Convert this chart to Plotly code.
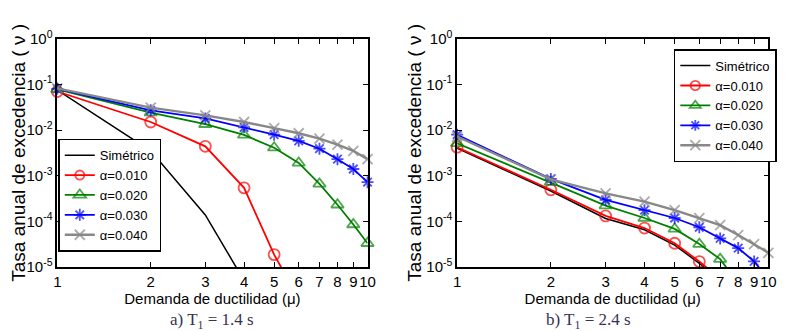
import plotly.graph_objects as go

mu = [1, 2, 3, 4, 5, 6, 7, 8, 9, 10]

# Panel a) T1 = 1.4 s
a_sim_x = [1, 2, 3, 4]
a_sim = [0.075, 0.0035, 0.000138, 0.000005]
a_010_x = [1, 2, 3, 4, 5, 6]
a_010 = [0.070, 0.015, 0.0044, 0.00054, 0.0000186, 0.000002]
a_020 = [0.078, 0.024, 0.0134, 0.0078, 0.0041, 0.0019, 0.00066, 0.00023, 0.000085, 0.000033]
a_030 = [0.080, 0.027, 0.018, 0.0115, 0.0079, 0.0058, 0.0039, 0.0023, 0.0014, 0.00072]
a_040 = [0.082, 0.031, 0.021, 0.015, 0.011, 0.0085, 0.0065, 0.0048, 0.0035, 0.0023]

# Panel b) T1 = 2.4 s
b_sim_x = [1, 2, 3, 4, 5, 6, 7]
b_sim = [0.0040, 0.00046, 0.000115, 0.000065, 0.00003, 0.000012, 0.000005]
b_010_x = [1, 2, 3, 4, 5, 6, 7]
b_010 = [0.0042, 0.00049, 0.000131, 0.000071, 0.000033, 0.0000131, 0.0000055]
b_020_x = [1, 2, 3, 4, 5, 6, 7, 8]
b_020 = [0.0051, 0.00072, 0.00022, 0.000118, 0.000068, 0.0000316, 0.0000148, 0.0000044]
b_030 = [0.0079, 0.00085, 0.000295, 0.000175, 0.000118, 0.000074, 0.000042, 0.0000258, 0.0000132, 0.0000054]
b_040 = [0.0072, 0.00083, 0.00041, 0.00027, 0.000175, 0.000117, 0.000082, 0.00005, 0.0000316, 0.0000204]

names = ["Simétrico", "α=0.010", "α=0.020", "α=0.030", "α=0.040"]
xtick_vals = [1, 2, 3, 4, 5, 6, 7, 8, 9, 10]
xtick_text = ["1", "2", "3", "4", "5", "6", "7", "8", "9", "10"]
ytick_vals = [1e-5, 1e-4, 1e-3, 1e-2, 1e-1, 1]
ytick_text = ["10<sup>-5</sup>", "10<sup>-4</sup>", "10<sup>-3</sup>", "10<sup>-2</sup>", "10<sup>-1</sup>", "10<sup>0</sup>"]

YMIN = 1e-5

styles = [
    dict(color="black", symbol=None, width=1.5, size=0),
    dict(color="#ff0000", symbol="circle-open", width=1.8, size=11),
    dict(color="#008000", symbol="triangle-up-open", width=1.8, size=11),
    dict(color="#0000ff", symbol="asterisk-open", width=1.8, size=10),
    dict(color="#888888", symbol="x-thin-open", width=2.4, size=10),
]

fig = go.Figure()

def add_panel(series, xa, ya, legend):
    for (x, y), name, st in zip(series, names, styles):
        sizes = [st["size"] if v >= YMIN else 0 for v in y]
        if st["symbol"] is None:
            mode = "lines"
            marker = None
        else:
            mode = "lines+markers"
            marker = dict(symbol=st["symbol"], size=sizes, color=st["color"],
                          line=dict(color=st["color"], width=1.8))
        fig.add_trace(go.Scatter(
            x=x, y=y, mode=mode, name=name, xaxis=xa, yaxis=ya, legend=legend,
            line=dict(color=st["color"], width=st["width"]),
            marker=marker, cliponaxis=False,
        ))

add_panel([(a_sim_x, a_sim), (a_010_x, a_010), (mu, a_020), (mu, a_030), (mu, a_040)], "x", "y", "legend")
add_panel([(b_sim_x, b_sim), (b_010_x, b_010), (b_020_x, b_020), (mu, b_030), (mu, b_040)], "x2", "y2", "legend2")

W, H = 791, 331
def px(xp):
    return xp / W
def py(yp):
    return 1 - yp / H

ydom = [py(263), py(21)]
axfont = dict(family="Liberation Sans, Arial", size=15, color="black")

xcommon = dict(type="log", range=[0, 1], tickvals=xtick_vals, ticktext=xtick_text,
               ticks="inside", ticklen=5, tickcolor="black", mirror="allticks",
               showline=True, linecolor="black", linewidth=1.5, showgrid=False,
               zeroline=False, tickfont=axfont, tickangle=0,
               title=dict(text="Demanda de ductilidad (μ)", font=dict(family="Liberation Sans, Arial", size=15, color="black"), standoff=1))
ycommon = dict(type="log", range=[-5, 0], tickvals=ytick_vals, ticktext=ytick_text,
               ticks="inside", ticklen=5, tickcolor="black", mirror="allticks",
               showline=True, linecolor="black", linewidth=1.5, showgrid=False,
               zeroline=False, tickfont=axfont,
               title=dict(text="Tasa anual de excedencia ( ν )",
                          font=dict(family="Liberation Sans, Arial", size=19, color="black"),
                          standoff=0))

legfont = dict(family="Liberation Sans, Arial", size=13, color="black")
fig.update_layout(
    width=W, height=H,
    margin=dict(l=0, r=0, t=0, b=0),
    paper_bgcolor="white", plot_bgcolor="white",
    xaxis=dict(domain=[px(46), px(361)], anchor="y", **xcommon),
    yaxis=dict(domain=ydom, anchor="x", **ycommon),
    xaxis2=dict(domain=[px(452), px(768)], anchor="y2", **xcommon),
    yaxis2=dict(domain=ydom, anchor="x2", **ycommon),
    legend=dict(x=px(47), y=py(127), xanchor="left", yanchor="top",
                bordercolor="black", borderwidth=1.5, bgcolor="white",
                font=legfont, itemwidth=30, tracegroupgap=0),
    legend2=dict(x=px(672), y=py(32), xanchor="left", yanchor="top",
                 bordercolor="black", borderwidth=1.5, bgcolor="white",
                 font=legfont, itemwidth=30, tracegroupgap=0),
    annotations=[
        dict(text="a) T<sub>1</sub> = 1.4 s", x=px(203), y=py(320), xref="paper", yref="paper",
             xanchor="center", yanchor="middle", showarrow=False,
             font=dict(family="Liberation Serif, Times New Roman", size=17, color="#333355")),
        dict(text="b) T<sub>1</sub> = 2.4 s", x=px(585), y=py(320), xref="paper", yref="paper",
             xanchor="center", yanchor="middle", showarrow=False,
             font=dict(family="Liberation Serif, Times New Roman", size=17, color="#333355")),
    ],
)

fig.write_html("out.html")
